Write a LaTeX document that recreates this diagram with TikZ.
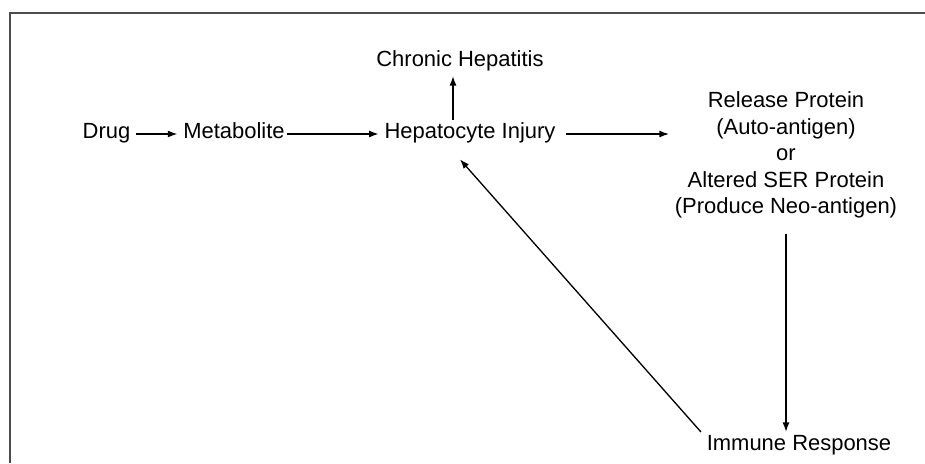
\documentclass[tikz,border=0pt]{standalone}
\usepackage{fontspec}
\setmainfont{Liberation Sans}
\usetikzlibrary{arrows.meta, calc, positioning}

\tikzset{
  txt/.style={inner sep=3pt, font=\fontsize{12.5}{15}\selectfont},
  lbl/.style={txt, text height=0.72em, text depth=0.21em},
  blk/.style={txt, align=center},
}

\begin{document}
\begin{tikzpicture}[>={Latex[length=1.9mm,width=1.4mm]}, line width=0.75pt]
    \useasboundingbox (0,0) rectangle (18.5,-9.26);
    \draw[black!70] (0.2,-9.26) -- (0.2,-0.26) -- (18.5,-0.26); % frame

    % main chain
    \node[lbl] (drug) at (2.13,-2.68) {Drug};
    \node[lbl] (meta) at (4.68,-2.68) {Metabolite};
    \node[lbl] (hep) at (9.40,-2.68) {Hepatocyte Injury};
    \node[lbl] (chr) at (9.20,-1.24) {Chronic Hepatitis};
    \node[blk] (rel) at (15.72,-3.10) {Release Protein\\(Auto-antigen)\\or\\Altered SER Protein\\(Produce Neo-antigen)};
    \node[lbl] (imm) at (15.98,-8.92) {Immune Response};

    % arrows
    \draw[->] (drug) -- (meta);
    \draw[->, shorten <=-0.08cm] (meta) -- (hep);
    \draw[->] ([xshift=-0.34cm]hep.north) -- ([xshift=-0.34cm]hep.north |- chr.south); % to chronic
    \draw[->, shorten <=0.1cm] (hep.east) -- (hep.east -| rel.west);
    \draw[->, shorten <=0.2cm] (rel.south) -- (rel.south |- imm.north);
    \draw[->, shorten >=0.3cm] (imm.north west) -- ([xshift=-0.4cm]hep.south); % feedback
\end{tikzpicture}
\end{document}
